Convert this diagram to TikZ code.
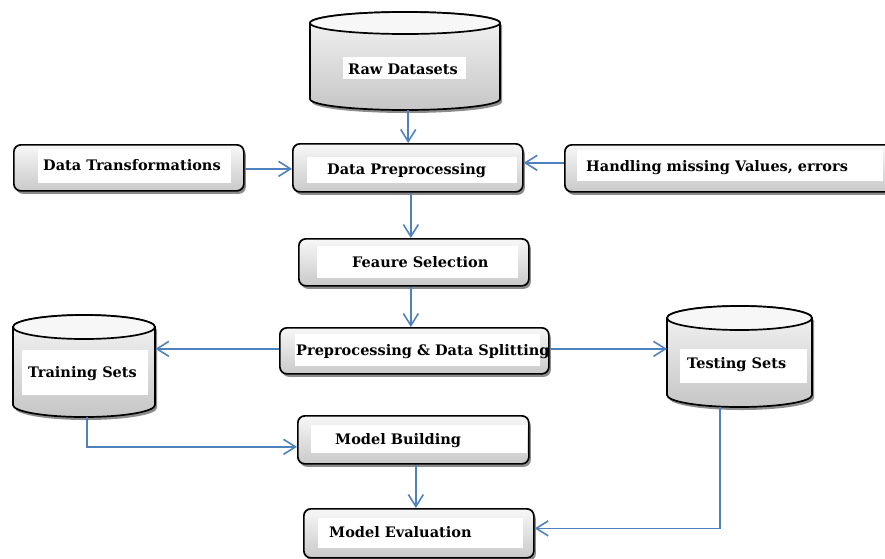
\documentclass[tikz,border=0pt]{standalone}
\usepackage{fontspec}
\setmainfont{DejaVu Serif}
\usetikzlibrary{arrows.meta,shadows}
\definecolor{arrowblue}{HTML}{4F81BD}
\newcommand{\lbfont}{\fontsize{14.5}{16}\selectfont\bfseries}
\tikzset{
  box/.style={draw=black, line width=1.7pt, rounded corners=7pt, top color=gray!6, bottom color=gray!42,
    drop shadow={shadow xshift=2pt, shadow yshift=-3pt, fill=black, opacity=0.45},
    inner sep=0pt, anchor=north west},
  cylbody/.style={draw=black, line width=1.7pt, top color=gray!8, bottom color=gray!45,
    drop shadow={shadow xshift=2pt, shadow yshift=-3pt, fill=black, opacity=0.45}},
  cyltop/.style={draw=black, line width=1.7pt, fill=gray!6},
  anchorbox/.style={inner sep=0pt, anchor=north west},
  txt/.style={inner sep=0pt, anchor=base west, font=\lbfont, text=black},
  arr/.style={draw=arrowblue, line width=1.6pt, -{Straight Barb[length=12pt,width=15pt]}},
}
\begin{document}
\begin{tikzpicture}[x=1pt,y=-1pt]
\useasboundingbox (0,0) rectangle (885,558);

% ---------- cylinders ----------
% Raw Datasets
\path[cylbody] (310,23) -- (310,99) arc[start angle=180,end angle=360,x radius=95pt,y radius=11pt]
  -- (500,23) arc[start angle=0,end angle=180,x radius=95pt,y radius=11pt] -- cycle;
\draw[cyltop] (405,23) ellipse[x radius=95pt,y radius=11pt];
\node[anchorbox, minimum width=190pt, minimum height=98pt] (raw) at (310,12) {};
\fill[white] (343,57) rectangle (466,79);
\node[txt] (rawt) at (348,74) {Raw Datasets};

% Training Sets
\path[cylbody] (13,327) -- (13,405) arc[start angle=180,end angle=360,x radius=71pt,y radius=12pt]
  -- (155,327) arc[start angle=0,end angle=180,x radius=71pt,y radius=12pt] -- cycle;
\draw[cyltop] (84,327) ellipse[x radius=71pt,y radius=12pt];
\node[anchorbox, minimum width=142pt, minimum height=102pt] (train) at (13,315) {};
\fill[white] (22,350) rectangle (148,395);
\node[txt] (traint) at (28,377) {Training Sets};

% Testing Sets
\path[cylbody] (667,318) -- (667,395) arc[start angle=180,end angle=360,x radius=72.5pt,y radius=12pt]
  -- (812,318) arc[start angle=0,end angle=180,x radius=72.5pt,y radius=12pt] -- cycle;
\draw[cyltop] (739.5,318) ellipse[x radius=72.5pt,y radius=12pt];
\node[anchorbox, minimum width=145pt, minimum height=101pt] (test) at (667,306) {};
\fill[white] (680,349) rectangle (807,383);
\node[txt] (testt) at (687,368) {Testing Sets};

% ---------- boxes ----------
\node[box, minimum width=230pt, minimum height=46pt] (dt) at (13,144) {};
\fill[white] (38,149) rectangle (231,183);
\node[txt] (dtt) at (43,170) {Data Transformations};

\node[box, minimum width=230pt, minimum height=48pt] (dp) at (292,143) {};
\fill[white] (307,157) rectangle (517,183);
\node[txt] (dpt) at (327,174) {Data Preprocessing};

\node[box, minimum width=335pt, minimum height=47pt] (hd) at (564,144) {};
\fill[white] (577,150) rectangle (883,181);
\node[txt] (hdt) at (586,171) {Handling missing Values, errors};

\node[box, minimum width=230pt, minimum height=47pt] (fs) at (298,238) {};
\fill[white] (317,246) rectangle (518,278);
\node[txt] (fst) at (352,267) {Feaure Selection};

\node[box, minimum width=269pt, minimum height=46pt] (sp) at (279,327) {};
\fill[white] (295,334) rectangle (540,366);
\node[txt] (spt) at (296,355) {Preprocessing \& Data Splitting};

\node[box, minimum width=231pt, minimum height=48pt] (mb) at (297,415) {};
\fill[white] (311,425) rectangle (527,453);
\node[txt] (mbt) at (335,444) {Model Building};

\node[box, minimum width=230pt, minimum height=49pt] (me) at (303,508) {};
\fill[white] (318,518) rectangle (523,548);
\node[txt] (met) at (329,537) {Model Evaluation};

% ---------- connectors ----------
\draw[arr] ([xshift=3pt]raw.south) -- ([xshift=3pt]raw.south |- dp.north);
\draw[arr] ([yshift=-1pt]dt.east) -- ([yshift=-1pt]dt.east -| dp.west);
\draw[arr] ([yshift=5.5pt]hd.west) -- ([yshift=5.5pt]hd.west -| dp.east);
\draw[arr] ([xshift=3pt]dp.south) -- ([xshift=3pt]dp.south |- fs.north);
\draw[arr] ([xshift=-3pt]fs.south) -- ([xshift=-3pt]fs.south |- sp.north);
\draw[arr] ([yshift=2pt]sp.west) -- ([yshift=2pt]sp.west -| train.east);
\draw[arr] ([yshift=2pt]sp.east) -- ([yshift=2pt]sp.east -| test.west);
\draw[arr] ([xshift=3pt]train.south) |- ([yshift=-7pt]mb.west);
\draw[arr] ([xshift=2.5pt]mb.south) -- ([xshift=2.5pt]mb.south |- me.north);
\draw[arr] ([xshift=-19.5pt]test.south) |- ([yshift=5pt]me.east);
\end{tikzpicture}
\end{document}
